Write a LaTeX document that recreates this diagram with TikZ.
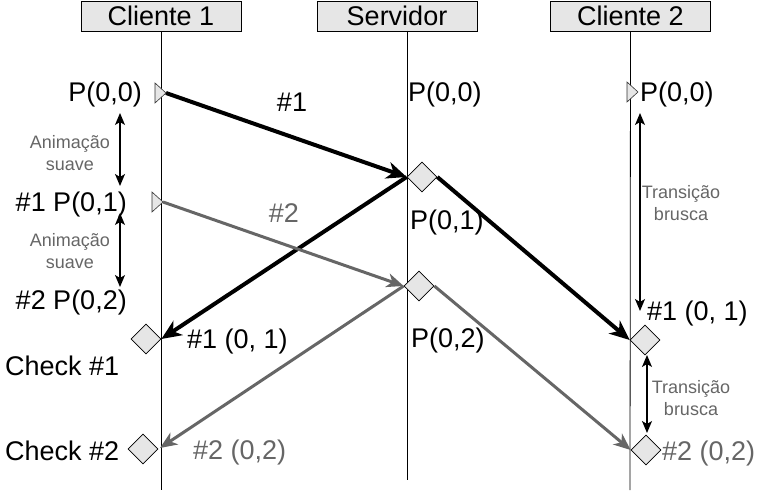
\documentclass[tikz,border=0pt]{standalone}
\usepackage{fontspec}
\setmainfont{Liberation Sans}
\usetikzlibrary{arrows.meta,shapes.geometric}
\definecolor{boxfill}{HTML}{E6E6E6}
\definecolor{dgray}{HTML}{666666}
\definecolor{tribord}{HTML}{333333}
\begin{document}
\begin{tikzpicture}[x=1pt,y=-1pt,
  big/.style={font=\fontsize{27}{32}\selectfont, inner sep=0pt},
  biggray/.style={big, text=dgray},
  small/.style={font=\fontsize{18}{22}\selectfont, text=dgray, align=center, inner sep=0pt},
  header/.style={draw=black, fill=boxfill, minimum width=160pt, minimum height=30pt, inner sep=0pt, font=\fontsize{27}{32}\selectfont, line width=0.8pt},
  life/.style={line width=0.8pt},
  dia/.style={diamond, draw=black, fill=boxfill, minimum width=30pt, minimum height=30pt, inner sep=0pt, line width=0.7pt},
  tri/.style={draw=tribord, fill=boxfill, line width=0.6pt, line join=miter},
  thickarr/.style={line width=4pt, -{Stealth[length=20pt,width=17pt,inset=6pt]}},
  grayarr/.style={line width=3pt, draw=dgray, -{Stealth[length=17pt,width=14pt,inset=5pt]}},
  twoway/.style={line width=1.3pt, {Stealth[length=12pt,width=10pt,inset=3pt]}-{Stealth[length=12pt,width=10pt,inset=3pt]}}
]
\useasboundingbox (0,0) rectangle (760,494);

% headers
\node[header] (h1) at (161,16) {Cliente 1};
\node[header] (h2) at (397,16) {Servidor};
\node[header] (h3) at (630.5,16) {Cliente 2};

% lifelines
\coordinate (s1top) at (407,31);
\coordinate (l1b) at (161,490);
\coordinate (l2b) at (407,480);
\coordinate (l3b) at (630,490);
\draw[life] (h1.south) -- (l1b);
\draw[life] (s1top) -- (l2b);
\draw[life] (h3.south) -- (l3b);

% triangles (message starts)
\coordinate (t1) at (166,93);
\coordinate (t2) at (163,202);
\coordinate (t3) at (638,92);
\draw[tri] (t1) -- ++(-11,-10) -- ++(0,20) -- cycle;
\draw[tri] (t2) -- ++(-11,-10) -- ++(0,20) -- cycle;
\draw[tri] (t3) -- ++(-11,-10) -- ++(0,20) -- cycle;

% diamonds
\node[dia] (s1) at (422,177) {};
\node[dia] (s2) at (419,286) {};
\node[dia] (c1a) at (146,339) {};
\node[dia] (c1b) at (143,449) {};
\node[dia] (c2a) at (645,340) {};
\node[dia] (c2b) at (646,450) {};

\coordinate (c1bin) at (160,448);

% message arrows
\draw[thickarr] (t1) -- (s1.west);
\draw[thickarr] (s1.west) -- (c1a.east);
\draw[thickarr] (s1.east) -- (c2a.west);
\draw[grayarr] (t2) -- (s2.west);
\draw[grayarr] (s2.west) -- (c1bin);
\draw[grayarr] (s2.east) -- (c2b.west);

% two-way arrows
\coordinate (a1t) at (120,113);
\coordinate (a1b) at (120,186);
\coordinate (a2t) at (120,213);
\coordinate (a2b) at (120,287);
\coordinate (b1t) at (640,113);
\coordinate (b1b) at (640,311);
\coordinate (b2t) at (647,355);
\coordinate (b2b) at (647,433);
\draw[twoway] (a1t) -- (a1b);
\draw[twoway] (a2t) -- (a2b);
\draw[twoway] (b1t) -- (b1b);
\draw[twoway] (b2t) -- (b2b);

% small labels
\node[small] (an1) at (70,153) {Animação\\suave};
\node[small] (an2) at (70,251) {Animação\\suave};
\node[small] (tr1) at (681,203) {Transição\\brusca};
\node[small] (tr2) at (691,398) {Transição\\brusca};

% client 1 texts
\node[big, anchor=base east] (p00a) at (142,102) {P(0,0)};
\node[big, anchor=base east] (p01a) at (127,212) {\#1 P(0,1)};
\node[big, anchor=base east] (p02a) at (127,309) {\#2 P(0,2)};
\node[big, anchor=base west] (ck1) at (5,375) {Check \#1};
\node[big, anchor=base west] (ck2) at (5,460) {Check \#2};
\node[big, anchor=base west] (r1a) at (187,348) {\#1 (0, 1)};
\node[biggray, anchor=base west] (r2a) at (193,459) {\#2 (0,2)};

% message labels
\node[big, anchor=base] (m1) at (292,112) {\#1};
\node[biggray, anchor=base] (m2) at (284,223) {\#2};

% server texts
\node[big, anchor=base west] (sp0) at (408,102) {P(0,0)};
\node[big, anchor=base west] (sp1) at (410,230) {P(0,1)};
\node[big, anchor=base west] (sp2) at (411,347) {P(0,2)};

% client 2 texts
\node[big, anchor=base west] (p00c) at (640,102) {P(0,0)};
\node[big, anchor=base west] (r1c) at (647,320) {\#1 (0, 1)};
\node[biggray, anchor=base west] (r2c) at (662,460) {\#2 (0,2)};
\end{tikzpicture}
\end{document}
